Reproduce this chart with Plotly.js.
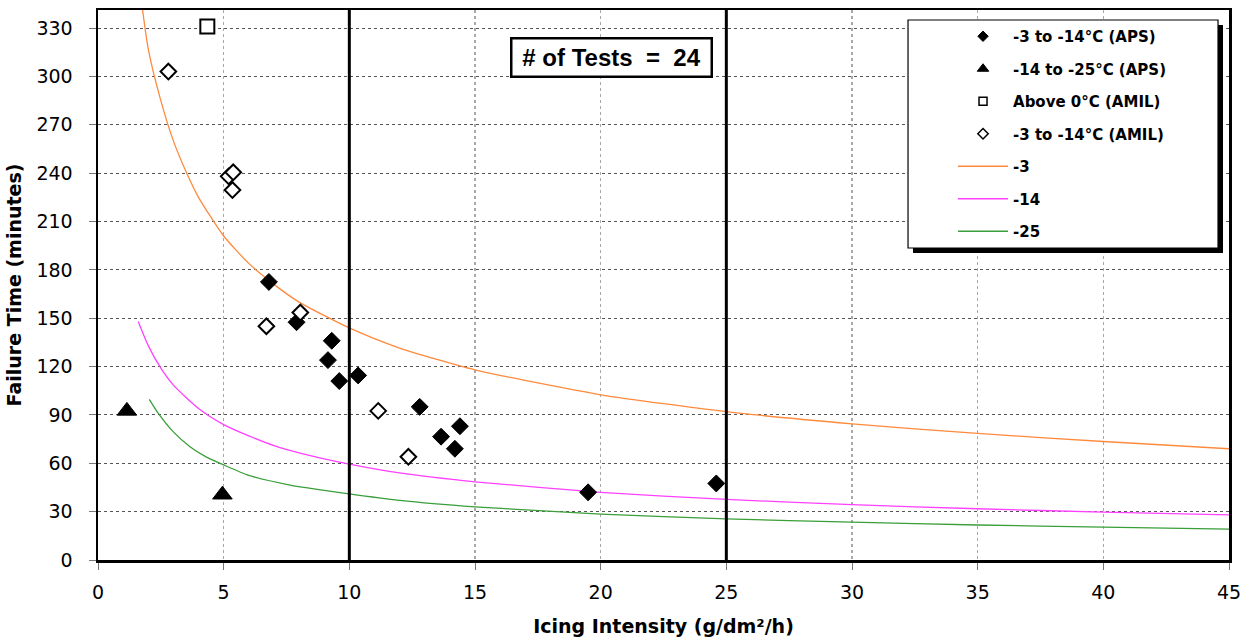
<!DOCTYPE html>
<html>
<head>
<meta charset="utf-8">
<script src="https://cdn.plot.ly/plotly-3.0.1.min.js"></script>
<style>
  html, body { margin: 0; padding: 0; background: #fff; }
  #chart { width: 1249px; height: 641px; }
</style>
</head>
<body>
<div id="chart"></div>
<script>
// Failure time vs icing intensity test results
const apsWarmX = [6.8, 7.9, 9.3, 9.15, 9.6, 10.35, 12.8, 13.65, 14.4, 14.2, 19.5, 24.6];
const apsWarmY = [172.5, 147.5, 136, 124, 111, 114.5, 95, 76.5, 83, 69, 42, 47.5];

const apsColdX = [1.15, 4.95];
const apsColdY = [92.5, 40.5];

const amilAboveX = [4.35];
const amilAboveY = [331];

const amilWarmX = [2.8, 5.2, 5.38, 5.35, 6.7, 8.05, 11.15, 12.35];
const amilWarmY = [303, 238, 240.5, 229.5, 145, 153.5, 92.5, 64];

// Reference curves for each temperature
const curveM3X = [1.75, 2, 2.5, 3, 3.5, 4, 5, 6, 7, 8, 10, 12, 15, 20, 25, 30, 35, 40, 45];
const curveM3Y = [344, 317, 285, 260, 241, 225, 201, 184, 171, 160, 144, 131.5, 118, 102.5, 92, 84.5, 78.5, 73.5, 69];

const curveM14X = [1.6, 2, 2.5, 3, 4, 5, 6, 7, 8, 10, 12, 15, 20, 25, 30, 35, 40, 45];
const curveM14Y = [148, 133, 119, 108.5, 94, 84, 77, 71, 66.5, 59.5, 54, 48.5, 42, 37.6, 34.3, 31.8, 29.7, 28];

const curveM25X = [2.04, 2.4, 3, 3.66, 4.3, 5, 6, 7.64, 10, 12, 15, 20, 25, 30, 35, 40, 45];
const curveM25Y = [99.7, 91, 79.5, 70.3, 64, 59, 52.5, 46.5, 41, 37, 33, 28.5, 25.5, 23.5, 21.7, 20.4, 19.2];

const xTicks = [0, 5, 10, 15, 20, 25, 30, 35, 40, 45];
const yTicks = [0, 30, 60, 90, 120, 150, 180, 210, 240, 270, 300, 330];
const boldLines = [10, 25];
const testCount = 24;

const names = ['-3 to -14°C (APS)', '-14 to -25°C (APS)', 'Above 0°C (AMIL)', '-3 to -14°C (AMIL)', '-3', '-14', '-25'];

const curveColors = ['#ff8a3d', '#ff40ff', '#3a9e3a'];

function pointTrace(x, y, idx, marker, legendMarker) {
  return [
    { x: x, y: y, type: 'scatter', mode: 'markers', name: names[idx],
      legendgroup: 'g' + idx, showlegend: false, marker: marker, cliponaxis: false },
    { x: [null], y: [null], type: 'scatter', mode: 'markers', name: names[idx],
      legendgroup: 'g' + idx, showlegend: true, marker: legendMarker }
  ];
}

function curveTrace(x, y, idx, color) {
  return { x: x, y: y, type: 'scatter', mode: 'lines', name: names[idx],
    legendgroup: 'g' + idx, line: { color: color, width: 1.3, shape: 'spline', smoothing: 0.6 } };
}

const traces = [].concat(
  curveTrace(curveM3X, curveM3Y, 4, curveColors[0]),
  curveTrace(curveM14X, curveM14Y, 5, curveColors[1]),
  curveTrace(curveM25X, curveM25Y, 6, curveColors[2]),
  pointTrace(apsWarmX, apsWarmY, 0,
    { symbol: 'diamond', size: 13, color: '#000', line: { color: '#000', width: 1 } },
    { symbol: 'diamond', size: 8, color: '#000', line: { color: '#000', width: 1 } }),
  pointTrace(apsColdX, apsColdY, 1,
    { symbol: 'triangle-up', size: 17, color: '#000', line: { color: '#000', width: 1 } },
    { symbol: 'triangle-up', size: 10, color: '#000', line: { color: '#000', width: 1 } }),
  pointTrace(amilAboveX, amilAboveY, 2,
    { symbol: 'square', size: 14, color: '#fff', line: { color: '#000', width: 2 } },
    { symbol: 'square', size: 8, color: '#fff', line: { color: '#000', width: 1.5 } }),
  pointTrace(amilWarmX, amilWarmY, 3,
    { symbol: 'diamond', size: 12, color: '#fff', line: { color: '#000', width: 2 } },
    { symbol: 'diamond', size: 8, color: '#fff', line: { color: '#000', width: 1.5 } })
);

// order legend entries: markers first, then curves
const legendOrder = [0, 1, 2, 3, 4, 5, 6];
traces.forEach(t => { t.legendrank = legendOrder.indexOf(names.indexOf(t.name)) + 1; });

const shapes = [];
boldLines.forEach(v => {
  shapes.push({ type: 'line', xref: 'x', yref: 'paper', x0: v, x1: v, y0: 0, y1: 1,
    line: { color: '#000', width: 3 }, layer: 'above' });
});
// legend panel with drop shadow
shapes.push({ type: 'rect', xref: 'paper', yref: 'paper', x0: 0.7206, x1: 0.9947, y0: 0.5582, y1: 0.9727,
  fillcolor: '#000', line: { width: 0 }, layer: 'above' });
shapes.push({ type: 'rect', xref: 'paper', yref: 'paper', x0: 0.7162, x1: 0.9903, y0: 0.5673, y1: 0.9818,
  fillcolor: '#fff', line: { color: '#000', width: 1.2 }, layer: 'above' });

const tickFont = { family: 'DejaVu Sans', size: 19, color: '#000' };
const titleFont = { family: 'DejaVu Sans', size: 19, color: '#000', weight: 'bold' };

const layout = {
  width: 1249, height: 641,
  margin: { l: 98, r: 20, t: 10, b: 81 },
  paper_bgcolor: '#fff', plot_bgcolor: '#fff',
  showlegend: true,
  xaxis: {
    range: [0, 45], tickvals: xTicks, ticktext: xTicks.map(String),
    showgrid: true, gridcolor: '#a8a8a8', gridwidth: 1.5, griddash: 'dot',
    zeroline: false, showline: true, linecolor: '#000', linewidth: 2.5, mirror: true,
    ticks: 'outside', ticklen: 7, tickcolor: '#777', tickwidth: 1,
    tickfont: tickFont, ticklabelstandoff: 7,
    title: { text: 'Icing Intensity (g/dm²/h)', font: titleFont, standoff: 18 },
    automargin: false, fixedrange: true
  },
  yaxis: {
    range: [0, 341.2], tickvals: yTicks, ticktext: yTicks.map(String),
    showgrid: true, gridcolor: '#555', gridwidth: 1, griddash: 'dot',
    zeroline: false, showline: true, linecolor: '#000', linewidth: 2.5, mirror: true,
    ticks: 'outside', ticklen: 7, tickcolor: '#777', tickwidth: 1,
    tickfont: tickFont, ticklabelstandoff: 12,
    title: { text: 'Failure Time (minutes)', font: titleFont, standoff: 10 },
    automargin: false, fixedrange: true
  },
  legend: {
    x: 0.7162, xanchor: 'left', y: 0.9818, yanchor: 'top',
    bgcolor: 'rgba(0,0,0,0)', borderwidth: 0,
    font: { family: 'DejaVu Sans', size: 15, color: '#000', weight: 'bold' },
    itemwidth: 50, indentation: 45, tracegroupgap: 10, itemclick: false, itemdoubleclick: false
  },
  shapes: shapes,
  annotations: [{
    xref: 'paper', yref: 'paper', x: 0.4536, y: 0.9145, xanchor: 'center', yanchor: 'middle',
    text: '# of Tests\u00a0 =\u00a0 ' + testCount, showarrow: false,
    font: { family: 'Liberation Sans', size: 24, color: '#000', weight: 'bold' },
    width: 192, height: 30,
    bgcolor: '#fff', bordercolor: '#000', borderwidth: 2.5, borderpad: 3
  }]
};

Plotly.newPlot('chart', traces, layout, { displayModeBar: false, staticPlot: true });
</script>
</body>
</html>
